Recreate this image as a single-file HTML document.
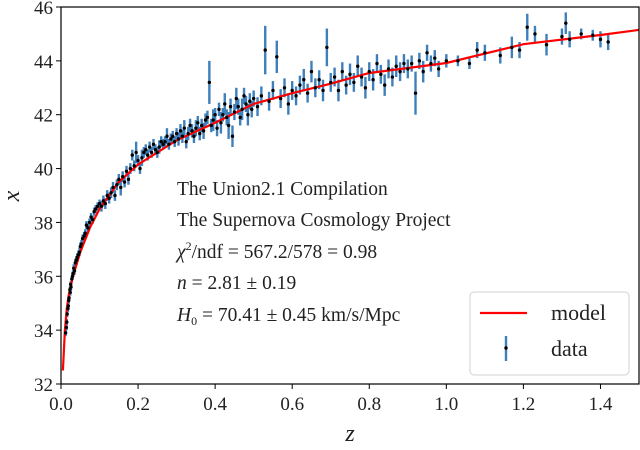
<!DOCTYPE html>
<html><head><meta charset="utf-8"><style>
body{margin:0;background:#fff}
svg text{font-family:"Liberation Serif",serif;fill:#222}
</style></head><body>
<svg id="c" width="640" height="445" xmlns="http://www.w3.org/2000/svg"></svg>
<script>
const modelZ=[0.005,0.01,0.015,0.02,0.03,0.05,0.075,0.1,0.15,0.2,0.3,0.4,0.5,0.6,0.7,0.8,1.0,1.2,1.4,1.5];
const modelMu=[32.5,34.0,34.8,35.3,35.95,36.9,37.8,38.5,39.5,40.15,41.05,41.7,42.4,42.8,43.15,43.55,43.92,44.62,44.96,45.15];
const dataZ=[.012,.014,.015,.016,.018,.019,.02,.021,.023,.024,.025,.026,.028,.03,.031,.033,.035,.037,.04,.042,.045,.048,.05,.053,.056,.06,.063,.066,.07,.074,.078,.082,.086,.09,.095,.1,
.105,.11,.115,.12,.125,.13,.135,.14,.145,.15,.155,.16,.165,.17,.175,.18,.185,.19,.195,.2,.205,.21,.215,.22,.225,.23,.235,.24,.245,.25,.255,.26,.265,.27,.275,.28,.285,.29,.295,.3,
.305,.31,.315,.32,.325,.33,.335,.34,.345,.35,.355,.36,.365,.37,.375,.38,.385,.39,.395,.4,.405,.41,.415,.42,.425,.43,.435,.44,.445,.45,.455,.46,.465,.47,.475,.48,.485,.49,.495,.5,
.51,.52,.53,.54,.55,.56,.57,.58,.59,.6,.61,.62,.63,.64,.65,.66,.67,.68,.69,.7,.71,.72,.73,.74,.75,.76,.77,.78,.79,.8,.81,.82,.83,.84,.85,.86,.87,.88,.89,.9,
.91,.92,.93,.94,.95,.96,.97,.98,1.0,1.03,1.06,1.08,1.1,1.14,1.17,1.19,1.21,1.23,1.26,1.3,1.31,1.32,1.35,1.38,1.4,1.42];
const dataMu=[33.9,34.1,34.3,34.6,34.8,34.9,35.1,35.2,35.5,35.4,35.7,35.6,35.9,36.0,36.1,36.3,36.2,36.5,36.6,36.7,36.8,36.9,37.1,37.2,37.4,37.5,37.6,37.9,37.8,38.0,38.2,38.1,38.4,38.5,38.6,38.7,
38.6,38.8,38.7,39.0,38.9,39.1,39.3,39.0,39.4,39.6,39.3,39.7,39.5,39.9,39.6,40.0,40.5,40.1,40.6,40.3,40.0,40.4,40.6,40.7,40.5,40.8,40.6,40.9,40.7,40.6,40.8,41.0,40.9,41.0,41.2,40.9,41.1,41.2,41.0,41.3,
41.1,41.4,41.2,41.5,41.0,41.3,41.6,41.4,41.2,41.5,41.7,41.3,41.6,41.4,41.8,41.9,43.2,41.6,41.8,42.0,41.5,42.2,41.7,42.0,42.4,41.9,41.6,42.3,41.2,42.1,42.6,42.3,41.9,42.2,42.7,42.4,42.0,42.5,42.2,42.6,
42.3,42.7,44.4,42.5,42.9,44.15,42.6,43.0,42.4,42.9,42.7,43.1,43.3,42.8,43.6,43.0,43.3,42.9,44.5,43.2,43.4,42.9,43.6,43.1,43.5,43.2,43.8,43.4,43.0,43.6,43.3,43.9,43.5,43.1,43.7,43.4,43.8,43.6,43.9,43.7,
43.9,42.8,44.0,43.6,44.3,43.9,44.1,43.7,44.0,44.0,43.9,44.4,44.3,44.2,44.5,44.4,45.25,45.0,44.6,44.9,45.4,44.8,45.0,44.95,44.8,44.7];
const dataErr=[.12,.12,.12,.12,.12,.12,.12,.12,.12,.12,.12,.12,.12,.12,.12,.15,.15,.15,.15,.15,.15,.15,.15,.15,.15,.15,.15,.15,.15,.15,.15,.15,.15,.15,.15,.15,
.2,.2,.2,.2,.2,.2,.2,.2,.2,.2,.3,.2,.2,.2,.2,.2,.2,.2,.4,.2,.2,.3,.2,.2,.2,.2,.2,.2,.2,.2,.25,.2,.2,.2,.3,.2,.2,.2,.2,.2,
.25,.25,.25,.3,.25,.25,.25,.25,.25,.3,.25,.25,.25,.3,.25,.25,.8,.25,.4,.25,.3,.25,.4,.25,.4,.3,.5,.3,.4,.3,.4,.3,.3,.4,.3,.3,.4,.3,.3,.3,
.35,.35,.9,.35,.35,.6,.35,.35,.4,.35,.35,.35,.4,.35,.4,.35,.35,.4,.7,.35,.35,.4,.35,.35,.4,.35,.4,.35,.4,.35,.4,.35,.35,.4,.35,.35,.4,.35,.35,.35,
.3,.8,.3,.4,.3,.3,.3,.3,.25,.2,.2,.3,.3,.3,.4,.3,.5,.3,.4,.3,.4,.3,.2,.2,.3,.3];
const xTicks=[0,0.2,0.4,0.6,0.8,1.0,1.2,1.4];
const xTickLabels=["0.0","0.2","0.4","0.6","0.8","1.0","1.2","1.4"];
const yTicks=[32,34,36,38,40,42,44,46];
const yTickLabels=["32","34","36","38","40","42","44","46"];

const L=61,R=639,T=7,B=384;
const sx=z=>L+(z-0)/(1.5-0)*(R-L);
const sy=v=>B-(v-32)/(46-32)*(B-T);
const svg=document.getElementById('c');
const NS='http://www.w3.org/2000/svg';
function mk(tag,attrs,parent){const e=document.createElementNS(NS,tag);for(const k in attrs)e.setAttribute(k,attrs[k]);(parent||svg).appendChild(e);return e;}

const gErr=mk('g',{});


for(let i=0;i<dataZ.length;i++){
  const x=sx(dataZ[i]);
  const l=mk('line',{x1:x,x2:x,y1:sy(dataMu[i]-dataErr[i]),y2:sy(dataMu[i]+dataErr[i]),stroke:'#3f7fba','stroke-width':2.4},gErr);
  
  
}
const pts=modelZ.map((z,i)=>sx(z).toFixed(1)+','+sy(modelMu[i]).toFixed(1)).join(' ');
const ml=mk('polyline',{points:pts,fill:'none',stroke:'#ff0000','stroke-width':2.2});


const gPts=mk('g',{});


for(let i=0;i<dataZ.length;i++){
  const c=mk('circle',{cx:sx(dataZ[i]),cy:sy(dataMu[i]),r:1.7,fill:'#000'},gPts);
  
  
}
const frame=mk('rect',{x:L,y:T,width:R-L,height:B-T,fill:'none',stroke:'#000','stroke-width':1.2});


xTicks.forEach((t,i)=>{
  const x=sx(t);
  mk('line',{x1:x,x2:x,y1:B,y2:B+5,stroke:'#000','stroke-width':1});
  const tx=mk('text',{x:x,y:B+26,'font-size':19,'text-anchor':'middle'});
  tx.textContent=xTickLabels[i];
  
  
});
yTicks.forEach((t,i)=>{
  const y=sy(t);
  mk('line',{x1:L-5,x2:L,y1:y,y2:y,stroke:'#000','stroke-width':1});
  const tx=mk('text',{x:L-8,y:y+7,'font-size':19,'text-anchor':'end'});
  tx.textContent=yTickLabels[i];
  
  
});
</script>
<svg width="640" height="445" style="position:absolute;left:0;top:0">
<text x="350" y="441" font-size="24" font-style="italic" text-anchor="middle">z</text>
<text x="0" y="0" font-size="24" font-style="italic" text-anchor="middle" transform="translate(19,196) rotate(-90)">x</text>
<g font-size="19.5">
<text x="177" y="195">The Union2.1 Compilation</text>
<text x="177" y="226">The Supernova Cosmology Project</text>
<text x="177" y="258"><tspan font-style="italic">χ</tspan><tspan font-size="12" dy="-8">2</tspan><tspan dy="8">/ndf = 567.2/578 = 0.98</tspan></text>
<text x="177" y="289"><tspan font-style="italic">n</tspan> = 2.81 ± 0.19</text>
<text x="177" y="321"><tspan font-style="italic">H</tspan><tspan font-size="12" dy="4">0</tspan><tspan dy="-4"> = 70.41 ± 0.45 km/s/Mpc</tspan></text>
</g>
<g>
<rect x="470" y="292" width="159" height="83" rx="4" fill="#fff" fill-opacity="0.85" stroke="#d0d0d0" stroke-width="1"/>
<line x1="480" y1="313" x2="527" y2="313" stroke="#ff0000" stroke-width="2.2"/>
<text x="551" y="320" font-size="22">model</text>
<line x1="506" y1="336" x2="506" y2="361" stroke="#3f7fba" stroke-width="2.4"/>
<circle cx="506" cy="348" r="1.7" fill="#000"/>
<text x="551" y="356" font-size="22">data</text>
</g>
</svg>
</body></html>
